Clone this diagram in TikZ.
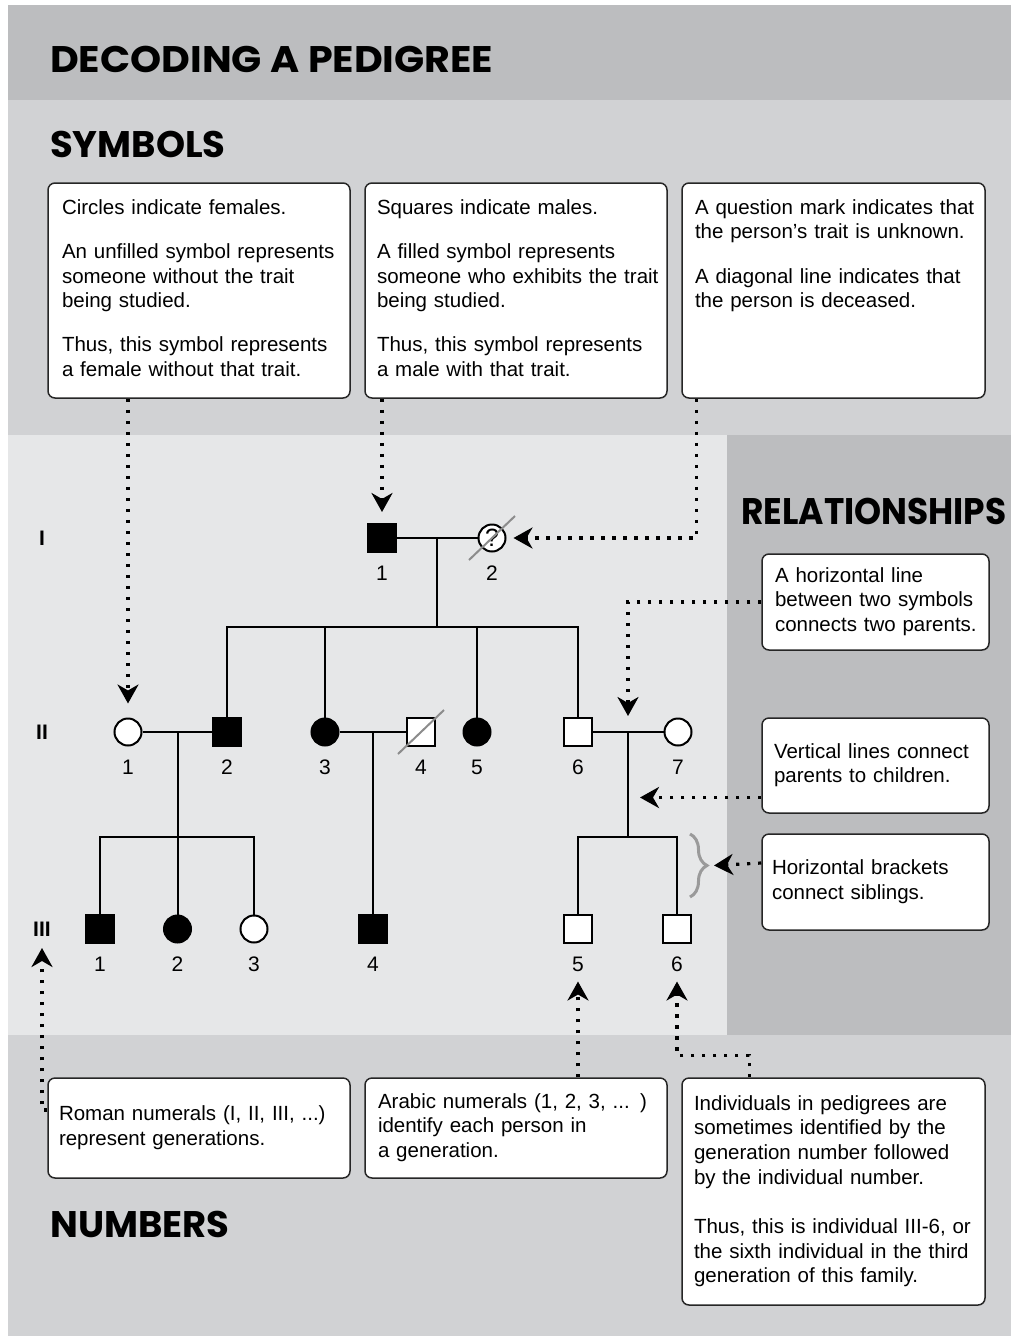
\documentclass[tikz,border=0pt]{standalone}
\usepackage{fontspec}
\setmainfont{Liberation Sans}
\newfontfamily\headfont{Poppins}
\usetikzlibrary{arrows.meta,calc,decorations.pathreplacing}

\definecolor{bandDark}{HTML}{BCBDBF}
\definecolor{bandMid}{HTML}{D1D2D4}
\definecolor{bandLight}{HTML}{E6E7E8}
\definecolor{slashGray}{HTML}{8C8C8C}
\definecolor{braceGray}{HTML}{9A9A9A}

\newcommand{\bodyfont}{\fontsize{20.5}{24.7}\selectfont}
\newcommand{\boxrows}[1]{\begin{tabular}{@{}l@{}}#1\end{tabular}}

\begin{document}
\begin{tikzpicture}[x=1pt, y=-1pt, node distance=35.5pt,
    head/.style={font=\headfont\bfseries\fontsize{37}{40}\selectfont, inner sep=0pt, anchor=west},
    box/.style n args={3}{draw=black!85, line width=1.5pt, fill=white, rounded corners=7pt,
      inner sep=0pt, align=left, font=\bodyfont, minimum width=#1, minimum height=#2, text width=#3},
    male/.style={draw, rectangle, line width=2pt, fill=white, minimum size=28pt, inner sep=0pt},
    female/.style={draw, circle, line width=2pt, fill=white, minimum size=27pt, inner sep=0pt},
    affected/.style={fill=black},
    num/.style={font=\fontsize{21}{25}\selectfont, inner sep=0pt},
    gen/.style={font=\bfseries\fontsize{21}{25}\selectfont, inner sep=0pt},
    pline/.style={line width=2pt},
    dead/.style={slashGray, line width=2pt},
    ptr/.style={line width=3.2pt, dash pattern=on 3.2pt off 7.8pt,
      -{Stealth[length=19pt, width=21pt, inset=6pt]}}]

  \useasboundingbox (0,0) rectangle (1011,1336);

  \fill[white] (0,0) rectangle (1011,1336);
  \fill[bandDark] (8,5) rectangle (1011,100);
  \fill[bandMid] (8,100) rectangle (1011,435);
  \fill[bandLight] (8,435) rectangle (727,1035);
  \fill[bandDark] (727,435) rectangle (1011,1035);
  \fill[bandMid] (8,1035) rectangle (1011,1336);

  \node[head] (title) at (50,59.5) {\addfontfeatures{FakeStretch=1.07}DECODING A PEDIGREE};
  \node[head] (symbols) at (50,144) {SYMBOLS};
  \node[head] (relations) at (741,511) {\addfontfeatures{FakeStretch=0.93}RELATIONSHIPS};
  \node[head] (numbers) at (50,1224) {NUMBERS};

  \node[box={302pt}{215pt}{274pt}] (boxA) at (199,290.5) {\boxrows{%
    Circles indicate females.\\[19.5pt]
    An unfilled symbol represents\\
    someone without the trait\\
    being studied.\\[19.5pt]
    Thus, this symbol represents\\
    a female without that trait.}};
  \node[box={302pt}{215pt}{278pt}] (boxB) at (516,290.5) {\boxrows{%
    Squares indicate males.\\[19.5pt]
    A filled symbol represents\\
    someone who exhibits the trait\\
    being studied.\\[19.5pt]
    Thus, this symbol represents\\
    a male with that trait.}};
  \node[box={303pt}{215pt}{277pt}, text depth=123pt] (boxC) at (833.5,290.5) {\boxrows{%
    A question mark indicates that\\
    the person’s trait is unknown.\\[19.5pt]
    A diagonal line indicates that\\
    the person is deceased.}};

  \node[box={227pt}{96pt}{201pt}] (boxD) at (875.5,602) {\boxrows{%
    A horizontal line\\
    between two symbols\\
    connects two parents.}};
  \node[box={227pt}{95pt}{203pt}] (boxE) at (875.5,765.5) {\boxrows{%
    Vertical lines connect\\
    parents to children.}};
  \node[box={227pt}{96pt}{207pt}] (boxF) at (875.5,882) {\boxrows{%
    Horizontal brackets\\
    connect siblings.}};

  \node[box={302pt}{100pt}{280pt}] (boxG) at (199,1128) {\boxrows{%
    Roman numerals (I, II, III, ...)\\
    represent generations.}};
  \node[box={302pt}{100pt}{276pt}] (boxH) at (516,1128) {\boxrows{%
    Arabic numerals (1, 2, 3, ... )\\
    identify each person in\\
    a generation.}};
  \node[box={303pt}{227pt}{279pt}] (boxI) at (833.5,1191.5) {\boxrows{%
    Individuals in pedigrees are\\
    sometimes identified by the\\
    generation number followed\\
    by the individual number.\\[24.7pt]
    Thus, this is individual III-6, or\\
    the sixth individual in the third\\
    generation of this family.}};

  \node[gen] (gI) at (42,538) {I};
  \node[gen] (gII) at (42,732) {II};
  \node[gen] (gIII) at (42,929) {III};

  \node[male, affected] (I1) at (382,538) {};
  \node[female] (I2) at (492,538) {\fontsize{25}{26}\selectfont ?};

  \node[female] (II1) at (128,732) {};
  \node[male, affected] (II2) at (227,732) {};
  \node[female, affected] (II3) at (325,732) {};
  \node[male] (II4) at (421,732) {};
  \node[female, affected] (II5) at (477,732) {};
  \node[male] (II6) at (578,732) {};
  \node[female] (II7) at (678,732) {};

  \node[male, affected] (III1) at (100,929) {};
  \node[female, affected] (III2) at (177.5,929) {};
  \node[female] (III3) at (254,929) {};
  \node[male, affected] (III4) at (373,929) {};
  \node[male] (III5) at (578,929) {};
  \node[male] (III6) at (677,929) {};

  \node[num] (n11) [below of=I1] {1};
  \node[num] (n12) [below of=I2] {2};
  \node[num] (n21) [below of=II1] {1};
  \node[num] (n22) [below of=II2] {2};
  \node[num] (n23) [below of=II3] {3};
  \node[num] (n24) [below of=II4] {4};
  \node[num] (n25) [below of=II5] {5};
  \node[num] (n26) [below of=II6] {6};
  \node[num] (n27) [below of=II7] {7};
  \node[num] (n31) [below of=III1] {1};
  \node[num] (n32) [below of=III2] {2};
  \node[num] (n33) [below of=III3] {3};
  \node[num] (n34) [below of=III4] {4};
  \node[num] (n35) [below of=III5] {5};
  \node[num] (n36) [below of=III6] {6};

  \coordinate (m1) at ($(I1)!0.5!(I2)$);
  \coordinate (m2) at ($(II1)!0.5!(II2)$);
  \coordinate (m3) at ($(II3)!0.5!(II4)$);
  \coordinate (m4) at ($(II6)!0.5!(II7)$);
  \coordinate (s1) at (437,627);
  \coordinate (s2) at (177.5,837);
  \coordinate (s3) at (628,837);
  \coordinate (br) at (707,865.5);

  \path[pline]
    (I1) edge (I2)
    (II1) edge (II2)
    (II3) edge (II4)
    (II6) edge (II7);

  \draw[pline] (m1) -- (s1);
  \draw[pline] (II2.north) |- (s1) -| (II6.north);
  \draw[pline] (II3.north) -- (II3.north |- s1);
  \draw[pline] (II5.north) -- (II5.north |- s1);
  \draw[pline] (m2) -- (III2.north);
  \draw[pline] (III1.north) |- (s2) -| (III3.north);
  \draw[pline] (m3) -- (III4.north);
  \draw[pline] (m4) -- (s3);
  \draw[pline] (III5.north) |- (s3) -| (III6.north);

  \draw[dead] ([shift={(-23pt,-22pt)}]I2.center) -- ([shift={(23pt,22pt)}]I2.center);
  \draw[dead] ([shift={(-23pt,-22pt)}]II4.center) -- ([shift={(23pt,22pt)}]II4.center);

  \draw[braceGray, line width=3pt, decorate, decoration={brace, amplitude=17pt}]
    (690,834) -- (690,897);

  \draw[ptr] (boxA.south -| II1) -- ([yshift=14pt]II1.north);
  \draw[ptr] (boxB.south -| I1) -- ([yshift=11pt]I1.north);
  \draw[ptr] ([xshift=15pt]boxC.south west) |- ([xshift=7pt]I2.east);
  \draw[ptr] (boxD.west) -| ([yshift=16pt]m4);
  \draw[ptr] ([yshift=-32pt]boxE.west) -- ([xshift=12pt, yshift=-32pt]boxE.west -| m4);
  \draw[ptr] ([yshift=19pt]boxF.west) -- ([xshift=7pt]br);
  \draw[ptr] ([yshift=18pt]boxG.west) -| ([yshift=-19pt]gIII.center);
  \draw[ptr] (boxH.north -| III5) -- ([yshift=-17pt]n35.center);
  \draw[ptr] ([xshift=68pt]boxI.north west) -- ++(0pt,22pt) -| ([yshift=-17pt]n36.center);
\end{tikzpicture}
\end{document}
